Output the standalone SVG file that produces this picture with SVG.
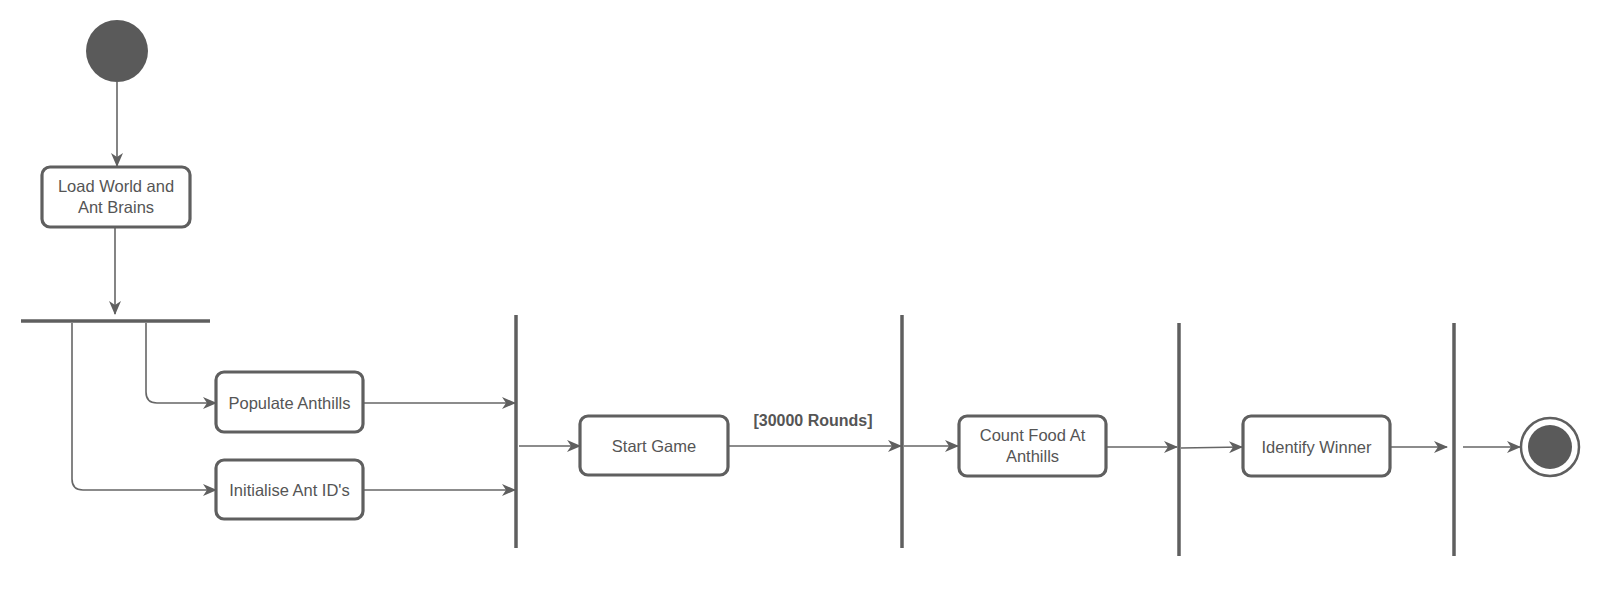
<svg xmlns="http://www.w3.org/2000/svg" width="1606" height="590" viewBox="0 0 1606 590">
<style>
.node{fill:#fff;stroke:#5f5f5f;stroke-width:3.2}
.bar{stroke:#5f5f5f;stroke-width:3.5;fill:none}
.edge{stroke:#666;stroke-width:1.6;fill:none}
.t{font-family:"Liberation Sans",Arial,sans-serif;font-size:16.5px;fill:#555;text-anchor:middle}
.lbl{font-family:"Liberation Sans",Arial,sans-serif;font-size:16px;font-weight:bold;fill:#555;text-anchor:middle}
.dot{fill:#5a5a5a}
</style>
<defs>
<marker id="arr" viewBox="0 0 14 12" refX="13" refY="6" markerWidth="14" markerHeight="12" markerUnits="userSpaceOnUse" orient="auto">
<path d="M0,0 L14,6 L0,12 L4,6 Z" fill="#5f5f5f"/>
</marker>
</defs>
<rect width="1606" height="590" fill="#fff"/>
<g id="connectors">
<line class="edge" x1="117" y1="82" x2="117" y2="166" marker-end="url(#arr)"/>
<line class="edge" x1="115" y1="228" x2="115" y2="314" marker-end="url(#arr)"/>
<path class="edge" d="M146,323 V392 Q146,403 157,403 H216" marker-end="url(#arr)"/>
<path class="edge" d="M72,323 V479 Q72,490 83,490 H216" marker-end="url(#arr)"/>
<line class="edge" x1="364" y1="403" x2="515" y2="403" marker-end="url(#arr)"/>
<line class="edge" x1="364" y1="490" x2="515" y2="490" marker-end="url(#arr)"/>
<line class="edge" x1="519" y1="446" x2="580" y2="446" marker-end="url(#arr)"/>
<line class="edge" x1="729" y1="446" x2="901" y2="446" marker-end="url(#arr)"/>
<text class="lbl" x="813" y="426">[30000 Rounds]</text>
<line class="edge" x1="904" y1="446" x2="958" y2="446" marker-end="url(#arr)"/>
<line class="edge" x1="1107" y1="447" x2="1177" y2="447" marker-end="url(#arr)"/>
<line class="edge" x1="1181" y1="448" x2="1242" y2="447" marker-end="url(#arr)"/>
<line class="edge" x1="1391" y1="447" x2="1447" y2="447" marker-end="url(#arr)"/>
<line class="edge" x1="1463" y1="447" x2="1520" y2="447" marker-end="url(#arr)"/>
</g>
<g id="start"><circle class="dot" cx="117" cy="51" r="31"/></g>
<g id="load"><rect class="node" x="42" y="167" width="148" height="60" rx="8"/>
<text class="t" x="116" y="192">Load World and</text><text class="t" x="116" y="213">Ant Brains</text></g>
<g id="fork"><line class="bar" x1="21" y1="321" x2="210" y2="321"/></g>
<g id="populate"><rect class="node" x="216" y="372" width="147" height="60" rx="8"/>
<text class="t" x="289.5" y="409">Populate Anthills</text></g>
<g id="initialise"><rect class="node" x="216" y="460" width="147" height="59" rx="8"/>
<text class="t" x="289.5" y="496">Initialise Ant ID's</text></g>
<g id="join1"><line class="bar" x1="516" y1="315" x2="516" y2="548"/></g>
<g id="startgame"><rect class="node" x="580" y="416" width="148" height="59" rx="8"/>
<text class="t" x="654" y="452">Start Game</text></g>
<g id="join2"><line class="bar" x1="902" y1="315" x2="902" y2="548"/></g>
<g id="countfood"><rect class="node" x="959" y="416" width="147" height="60" rx="8"/>
<text class="t" x="1032.5" y="441">Count Food At</text><text class="t" x="1032.5" y="462">Anthills</text></g>
<g id="join3"><line class="bar" x1="1179" y1="323" x2="1179" y2="556"/></g>
<g id="identify"><rect class="node" x="1243" y="416" width="147" height="60" rx="8"/>
<text class="t" x="1316.5" y="453">Identify Winner</text></g>
<g id="join4"><line class="bar" x1="1454" y1="323" x2="1454" y2="556"/></g>
<g id="end"><circle cx="1550" cy="447" r="29" fill="#fff" stroke="#5f5f5f" stroke-width="2.5"/><circle class="dot" cx="1550" cy="447" r="22"/></g>
</svg>
